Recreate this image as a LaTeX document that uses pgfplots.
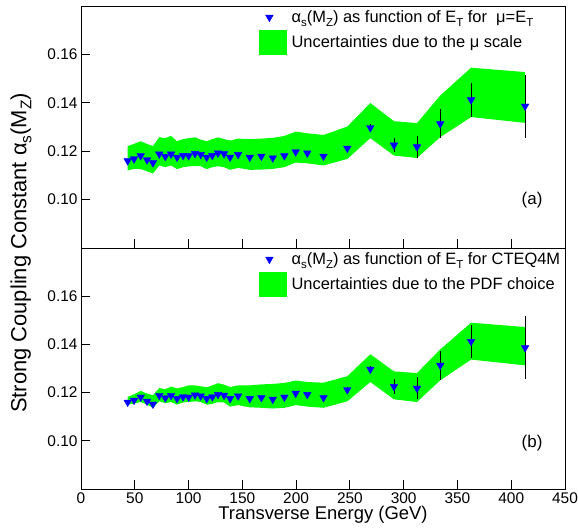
\documentclass[border=0pt]{standalone}
\usepackage{pgfplots}
\usepackage{pgfplotstable}
\pgfplotsset{compat=1.18}
\usepackage{fontspec}
\setmainfont{Liberation Sans}
\definecolor{rootgreen}{RGB}{0,255,0}
\definecolor{rootblue}{RGB}{0,0,255}
\newcommand\lsub[1]{\raisebox{-0.22em}{\fontsize{11.5}{11.5}\selectfont #1}}
\newcommand\ysub[1]{\raisebox{-0.22em}{\fontsize{15.5}{15.5}\selectfont #1}}

\pgfplotstableread{
x y e
43.4 0.1160 0
49.3 0.1168 0
55.5 0.1181 0
61.4 0.1164 0
66.9 0.1152 0
72.8 0.1188 0
78.4 0.1178 0
83.7 0.1188 0
89.3 0.1175 0
94.9 0.1182 0
100.1 0.1181 0
106.0 0.1190 0
111.3 0.1186 0
116.9 0.1175 0
122.1 0.1182 0
127.4 0.1192 0
133.0 0.1189 0
138.6 0.1175 0
146.1 0.1186 0
156.9 0.1175 0
167.7 0.1179 0
178.3 0.1172 0
189.1 0.1181 0
199.6 0.1197 0
210.4 0.1192 0
225.5 0.1179 0
247.6 0.1212 0.001
269.0 0.1297 0.0015
291.0 0.1225 0.003
312.4 0.1218 0.0045
334.0 0.1313 0.006
362.7 0.1412 0.007
412.9 0.1386 0.013
}\pts

% band (a): upper edge left to right, then lower edge right to left
\pgfplotstableread{
x y
43.4 0.1221
49.3 0.1230
55.5 0.1241
61.4 0.1230
66.9 0.1221
72.8 0.1258
78.4 0.1254
83.7 0.1263
89.3 0.1241
94.9 0.1250
100.1 0.1254
106.0 0.1257
111.3 0.1248
116.9 0.1241
122.1 0.1250
127.4 0.1257
133.0 0.1250
138.6 0.1244
146.1 0.1252
156.9 0.1250
167.7 0.1252
178.3 0.1255
189.1 0.1263
199.6 0.1281
210.4 0.1274
225.5 0.1267
247.6 0.1302
269.0 0.1399
291.0 0.1324
312.4 0.1316
334.0 0.1430
362.7 0.1545
412.9 0.1527
412.9 0.1317
362.7 0.1341
334.0 0.1258
312.4 0.1172
291.0 0.1182
269.0 0.1254
247.6 0.1168
225.5 0.1141
210.4 0.1150
199.6 0.1153
189.1 0.1134
178.3 0.1127
167.7 0.1124
156.9 0.1123
146.1 0.1131
138.6 0.1123
133.0 0.1134
127.4 0.1138
122.1 0.1134
116.9 0.1126
111.3 0.1138
106.0 0.1139
100.1 0.1137
94.9 0.1134
89.3 0.1126
83.7 0.1141
78.4 0.1134
72.8 0.1141
66.9 0.1108
61.4 0.1117
55.5 0.1126
49.3 0.1127
43.4 0.1120
}\banda

% band (b): upper edge left to right, then lower edge right to left
\pgfplotstableread{
x y
43.4 0.1182
49.3 0.1193
55.5 0.1207
61.4 0.1196
66.9 0.1189
72.8 0.1219
78.4 0.1214
83.7 0.1225
89.3 0.1217
94.9 0.1223
100.1 0.1230
106.0 0.1230
111.3 0.1226
116.9 0.1222
122.1 0.1230
127.4 0.1239
133.0 0.1233
138.6 0.1223
146.1 0.1230
156.9 0.1230
167.7 0.1234
178.3 0.1236
189.1 0.1240
199.6 0.1250
210.4 0.1244
225.5 0.1241
247.6 0.1268
269.0 0.1359
291.0 0.1288
312.4 0.1281
334.0 0.1379
362.7 0.1490
412.9 0.1472
412.9 0.1313
362.7 0.1337
334.0 0.1251
312.4 0.1161
291.0 0.1172
269.0 0.1244
247.6 0.1164
225.5 0.1137
210.4 0.1142
199.6 0.1148
189.1 0.1137
178.3 0.1134
167.7 0.1137
156.9 0.1139
146.1 0.1148
138.6 0.1142
133.0 0.1159
127.4 0.1161
122.1 0.1153
116.9 0.1150
111.3 0.1161
106.0 0.1164
100.1 0.1161
94.9 0.1159
89.3 0.1150
83.7 0.1161
78.4 0.1156
72.8 0.1164
66.9 0.1137
61.4 0.1150
55.5 0.1161
49.3 0.1154
43.4 0.1150
}\bandb

\pgfplotsset{
  panel/.style={
    scale only axis, width=484bp,
    xmin=0, xmax=450, ymin=0.08, ymax=0.18,
    xtick={0,50,...,450},
    ytick={0.10,0.12,0.14,0.16},
    yticklabels={0.10,0.12,0.14,0.16},
    scaled y ticks=false,
    tick align=inside, xtick pos=bottom, ytick pos=left,
    major tick length=9bp,
    /pgf/number format/assume math mode=true,
    tick label style={font=\fontsize{15.5}{16}\selectfont},
    axis line style={line width=0.8bp},
    every tick/.style={black, line width=0.8bp},
    legend style={at={(0.3678,0.99)}, anchor=north west,
      draw=none, fill=none, inner sep=0pt, row sep=4bp, column sep=3bp,
      font=\fontsize{16.5}{16.5}\selectfont},
    legend cell align=left,
  },
}

\begin{document}
\begin{tikzpicture}
\path[use as bounding box] (0,0) rectangle (578bp,529bp);

\begin{axis}[panel, at={(81bp,281bp)}, anchor=south west, height=242bp,
  xticklabels={}]
  \addlegendimage{only marks, mark=triangle*, mark size=4.4bp,
    mark options={rotate=180, fill=rootblue, draw=rootblue},
    legend image post style={xshift=1.5bp}}
  \addlegendentry{α\lsub{s}(M\lsub{Z}) as function of E\lsub{T} for \ μ=E\lsub{T}}
  \addlegendimage{legend image code/.code={\fill[rootgreen] (0bp,-12bp) rectangle (27bp,12bp);}}
  \addlegendentry{Uncertainties due to the μ scale}
  \addplot[fill=rootgreen, draw=none, forget plot] table[x=x, y=y] {\banda} -- cycle;
  \addplot[forget plot, only marks, mark=triangle*, mark size=4.4bp,
    mark options={rotate=180, fill=rootblue, draw=rootblue},
    error bars/y dir=both, error bars/y explicit, error bars/error mark=none,
    error bars/error bar style={black, line width=0.8bp}]
    table[x=x, y=y, y error=e] {\pts};
  \node[font=\fontsize{17}{17}\selectfont] at (rel axis cs:0.932,0.198) {(a)};
\end{axis}

\begin{axis}[panel, at={(81bp,40bp)}, anchor=south west, height=241bp,
  xlabel={Transverse Energy (GeV)},
  xlabel style={font=\fontsize{18.5}{18.5}\selectfont, yshift=4bp}]
  \addlegendimage{only marks, mark=triangle*, mark size=4.4bp,
    mark options={rotate=180, fill=rootblue, draw=rootblue},
    legend image post style={xshift=1.5bp}}
  \addlegendentry{α\lsub{s}(M\lsub{Z}) as function of E\lsub{T} for CTEQ4M}
  \addlegendimage{legend image code/.code={\fill[rootgreen] (0bp,-12bp) rectangle (27bp,12bp);}}
  \addlegendentry{Uncertainties due to the PDF choice}
  \addplot[fill=rootgreen, draw=none, forget plot] table[x=x, y=y] {\bandb} -- cycle;
  \addplot[forget plot, only marks, mark=triangle*, mark size=4.4bp,
    mark options={rotate=180, fill=rootblue, draw=rootblue},
    error bars/y dir=both, error bars/y explicit, error bars/error mark=none,
    error bars/error bar style={black, line width=0.8bp}]
    table[x=x, y=y, y error=e] {\pts};
  \node[font=\fontsize{17}{17}\selectfont] at (rel axis cs:0.932,0.19) {(b)};
\end{axis}

\node[rotate=90, font=\fontsize{22}{22}\selectfont] at (21bp,276bp)
  {Strong Coupling Constant α\ysub{s}(M\ysub{Z})};
\end{tikzpicture}
\end{document}
